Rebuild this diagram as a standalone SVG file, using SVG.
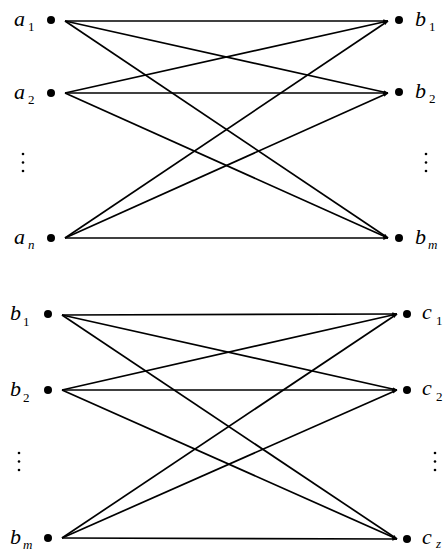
<svg xmlns="http://www.w3.org/2000/svg" width="445" height="551" viewBox="0 0 445 551">
<defs>
<style>
.lbl{font-family:"Liberation Serif","Times New Roman",serif;font-style:italic;font-size:22px;fill:#000}
.sub{font-family:"Liberation Serif","Times New Roman",serif;font-size:13px;fill:#000}
.subi{font-family:"Liberation Serif","Times New Roman",serif;font-style:italic;font-size:13px;fill:#000}
.dot{fill:#000}
.edge{stroke:#000;stroke-width:1.7;fill:none;marker-end:url(#ah)}
.vd{fill:#000}
</style>
<marker id="ah" viewBox="0 0 8 6" refX="7.5" refY="3" markerWidth="5" markerHeight="4" orient="auto" markerUnits="userSpaceOnUse">
<path d="M0,0 L8,3 L0,6 z" fill="#000"/>
</marker>
</defs>
<rect width="445" height="551" fill="#fff"/>
<g id="connectors">
<line class="edge" x1="65" y1="21" x2="388" y2="21"/>
<line class="edge" x1="65" y1="21" x2="388" y2="93"/>
<line class="edge" x1="65" y1="21" x2="388" y2="238"/>
<line class="edge" x1="65" y1="93" x2="388" y2="21"/>
<line class="edge" x1="65" y1="93" x2="388" y2="93"/>
<line class="edge" x1="65" y1="93" x2="388" y2="238"/>
<line class="edge" x1="65" y1="238" x2="388" y2="21"/>
<line class="edge" x1="65" y1="238" x2="388" y2="93"/>
<line class="edge" x1="65" y1="238" x2="388" y2="238"/>
<line class="edge" x1="62" y1="315" x2="397" y2="314"/>
<line class="edge" x1="62" y1="315" x2="397" y2="390"/>
<line class="edge" x1="62" y1="315" x2="397" y2="539"/>
<line class="edge" x1="62" y1="390" x2="397" y2="314"/>
<line class="edge" x1="62" y1="390" x2="397" y2="390"/>
<line class="edge" x1="62" y1="390" x2="397" y2="539"/>
<line class="edge" x1="62" y1="538" x2="397" y2="314"/>
<line class="edge" x1="62" y1="538" x2="397" y2="390"/>
<line class="edge" x1="62" y1="538" x2="397" y2="539"/>
</g>
<g id="a1"><circle class="dot" cx="51" cy="20" r="4"/><text class="lbl" x="14" y="26">a</text><text class="sub" x="28" y="31">1</text></g>
<g id="a2"><circle class="dot" cx="51" cy="93" r="4"/><text class="lbl" x="14" y="99">a</text><text class="sub" x="28" y="104">2</text></g>
<g id="an"><circle class="dot" cx="51" cy="238" r="4"/><text class="lbl" x="14" y="244">a</text><text class="subi" x="28" y="249">n</text></g>
<g id="b1top"><circle class="dot" cx="399" cy="20" r="4"/><text class="lbl" x="415" y="26">b</text><text class="sub" x="429" y="31">1</text></g>
<g id="b2top"><circle class="dot" cx="399" cy="92" r="4"/><text class="lbl" x="415" y="98">b</text><text class="sub" x="429" y="103">2</text></g>
<g id="bmtop"><circle class="dot" cx="399" cy="238" r="4"/><text class="lbl" x="415" y="244">b</text><text class="subi" x="428" y="249">m</text></g>
<g id="b1bot"><circle class="dot" cx="48" cy="314" r="4"/><text class="lbl" x="10" y="320">b</text><text class="sub" x="23" y="326">1</text></g>
<g id="b2bot"><circle class="dot" cx="48" cy="390" r="4"/><text class="lbl" x="10" y="396">b</text><text class="sub" x="23" y="402">2</text></g>
<g id="bmbot"><circle class="dot" cx="48" cy="538" r="4"/><text class="lbl" x="10" y="544">b</text><text class="subi" x="23" y="549">m</text></g>
<g id="c1"><circle class="dot" cx="407" cy="314" r="4"/><text class="lbl" x="422" y="319">c</text><text class="sub" x="436" y="325">1</text></g>
<g id="c2"><circle class="dot" cx="407" cy="390" r="4"/><text class="lbl" x="422" y="395">c</text><text class="sub" x="436" y="401">2</text></g>
<g id="cz"><circle class="dot" cx="407" cy="539" r="4"/><text class="lbl" x="422" y="544">c</text><text class="subi" x="436" y="548">z</text></g>
<g id="vdots">
<circle class="vd" cx="23" cy="154" r="1.3"/><circle class="vd" cx="23" cy="162.5" r="1.3"/><circle class="vd" cx="23" cy="171" r="1.3"/>
<circle class="vd" cx="426" cy="154" r="1.3"/><circle class="vd" cx="426" cy="162.5" r="1.3"/><circle class="vd" cx="426" cy="171" r="1.3"/>
<circle class="vd" cx="19" cy="453" r="1.3"/><circle class="vd" cx="19" cy="461.5" r="1.3"/><circle class="vd" cx="19" cy="470" r="1.3"/>
<circle class="vd" cx="435" cy="453" r="1.3"/><circle class="vd" cx="435" cy="461.5" r="1.3"/><circle class="vd" cx="435" cy="470" r="1.3"/>
</g>
</svg>
